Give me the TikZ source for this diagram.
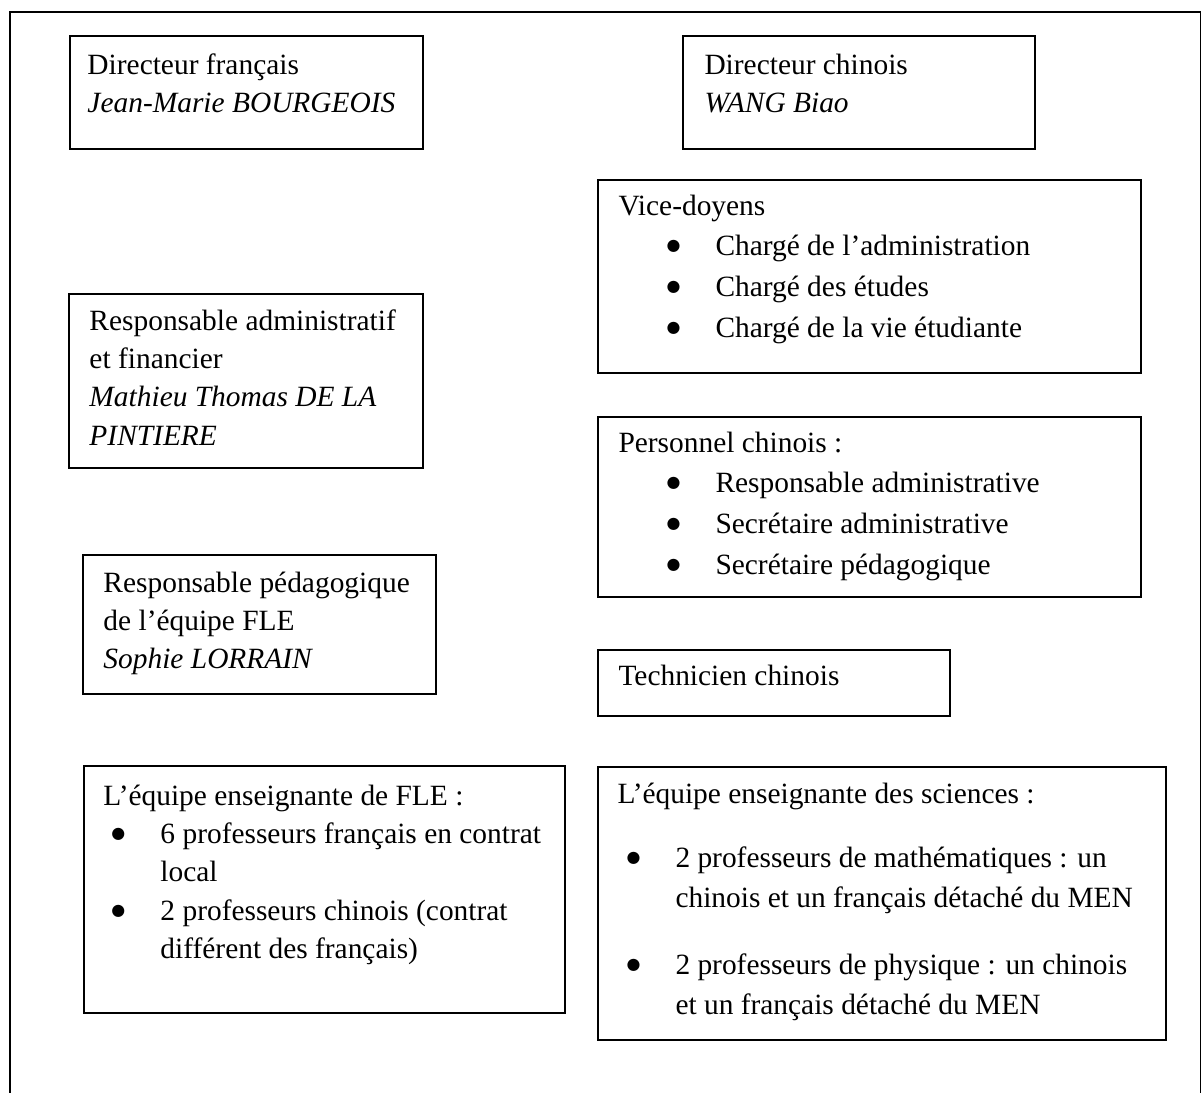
\documentclass[tikz,border=0pt]{standalone}
\usepackage{fontspec}
\setmainfont{Liberation Serif}
\newfontfamily\puces{DejaVu Sans}

\newlength\px
\setlength\px{0.408pt}
\newcommand\puce[1]{\hspace*{#1\px}\makebox[47\px][l]{\hspace*{-2\px}\raisebox{5\px}{\puces\fontsize{6.5pt}{6.5pt}\selectfont ●}}}

\begin{document}
\begin{tikzpicture}[
    x=0.408pt, y=-0.408pt,
    cadre/.style={draw, line width=0.8pt, inner sep=0pt, anchor=north west},
    texte/.style={anchor=base west, inner sep=0pt, font=\fontsize{12pt}{15.65pt}\selectfont},
    liste/.style={texte, font=\fontsize{12pt}{16.6pt}\selectfont}
]
\useasboundingbox (0,0) rectangle (1201,1092);

% page frame
\node[cadre, minimum width=1191\px, minimum height=1200\px] (page) at (9,11) {};

% boxes
\node[cadre, minimum width=353\px, minimum height=113\px] (dirfr) at (69,35) {};
\node[cadre, minimum width=352\px, minimum height=113\px] (dirch) at (682,35) {};
\node[cadre, minimum width=543\px, minimum height=193\px] (vice) at (597,179) {};
\node[cadre, minimum width=354\px, minimum height=174\px] (resadm) at (68,293) {};
\node[cadre, minimum width=543\px, minimum height=180\px] (perso) at (597,416) {};
\node[cadre, minimum width=353\px, minimum height=139\px] (respeda) at (82,554) {};
\node[cadre, minimum width=352\px, minimum height=66\px] (tech) at (597,649) {};
\node[cadre, minimum width=481\px, minimum height=247\px] (fle) at (83,765) {};
\node[cadre, minimum width=568\px, minimum height=273\px] (sci) at (597,766) {};

% texts
\node[texte] (dirfrtxt) at (87,74) {\parbox[t]{330\px}{Directeur français\\
\textit{Jean-Marie BOURGEOIS}}};
\node[texte] (dirchtxt) at (704,74) {\parbox[t]{320\px}{Directeur chinois\\
\textit{WANG Biao}}};
\node[liste] (vicetxt) at (618,215) {\parbox[t]{520\px}{Vice-doyens\\
\puce{50}Chargé de l’administration\\
\puce{50}Chargé des études\\
\puce{50}Chargé de la vie étudiante}};
\node[texte] (resadmtxt) at (89,330) {\parbox[t]{330\px}{Responsable administratif\\
et financier\\
\textit{Mathieu Thomas DE LA}\\
\textit{PINTIERE}}};
\node[liste] (persotxt) at (618,452) {\parbox[t]{520\px}{Personnel chinois :\\
\puce{50}Responsable administrative\\
\puce{50}Secrétaire administrative\\
\puce{50}Secrétaire pédagogique}};
\node[texte] (respedatxt) at (103,592) {\parbox[t]{330\px}{Responsable pédagogique\\
de l’équipe FLE\\
\textit{Sophie LORRAIN}}};
\node[texte] (techtxt) at (618,685) {Technicien chinois};
\node[texte] (fletxt) at (103,805) {\parbox[t]{460\px}{L’équipe enseignante de FLE :\\
\puce{10}6 professeurs français en contrat\\
\hspace*{57\px}local\\
\puce{10}2 professeurs chinois (contrat\\
\hspace*{57\px}différent des français)}};
\node[texte, font=\fontsize{12pt}{16.3pt}\selectfont] (scitxt) at (617,803) {\parbox[t]{560\px}{L’équipe enseignante des sciences :\\[25\px]
\puce{11}2 professeurs de mathématiques : un\\
\hspace*{58\px}chinois et un français détaché du MEN\\[27\px]
\puce{11}2 professeurs de physique : un chinois\\
\hspace*{58\px}et un français détaché du MEN}};
\end{tikzpicture}
\end{document}
